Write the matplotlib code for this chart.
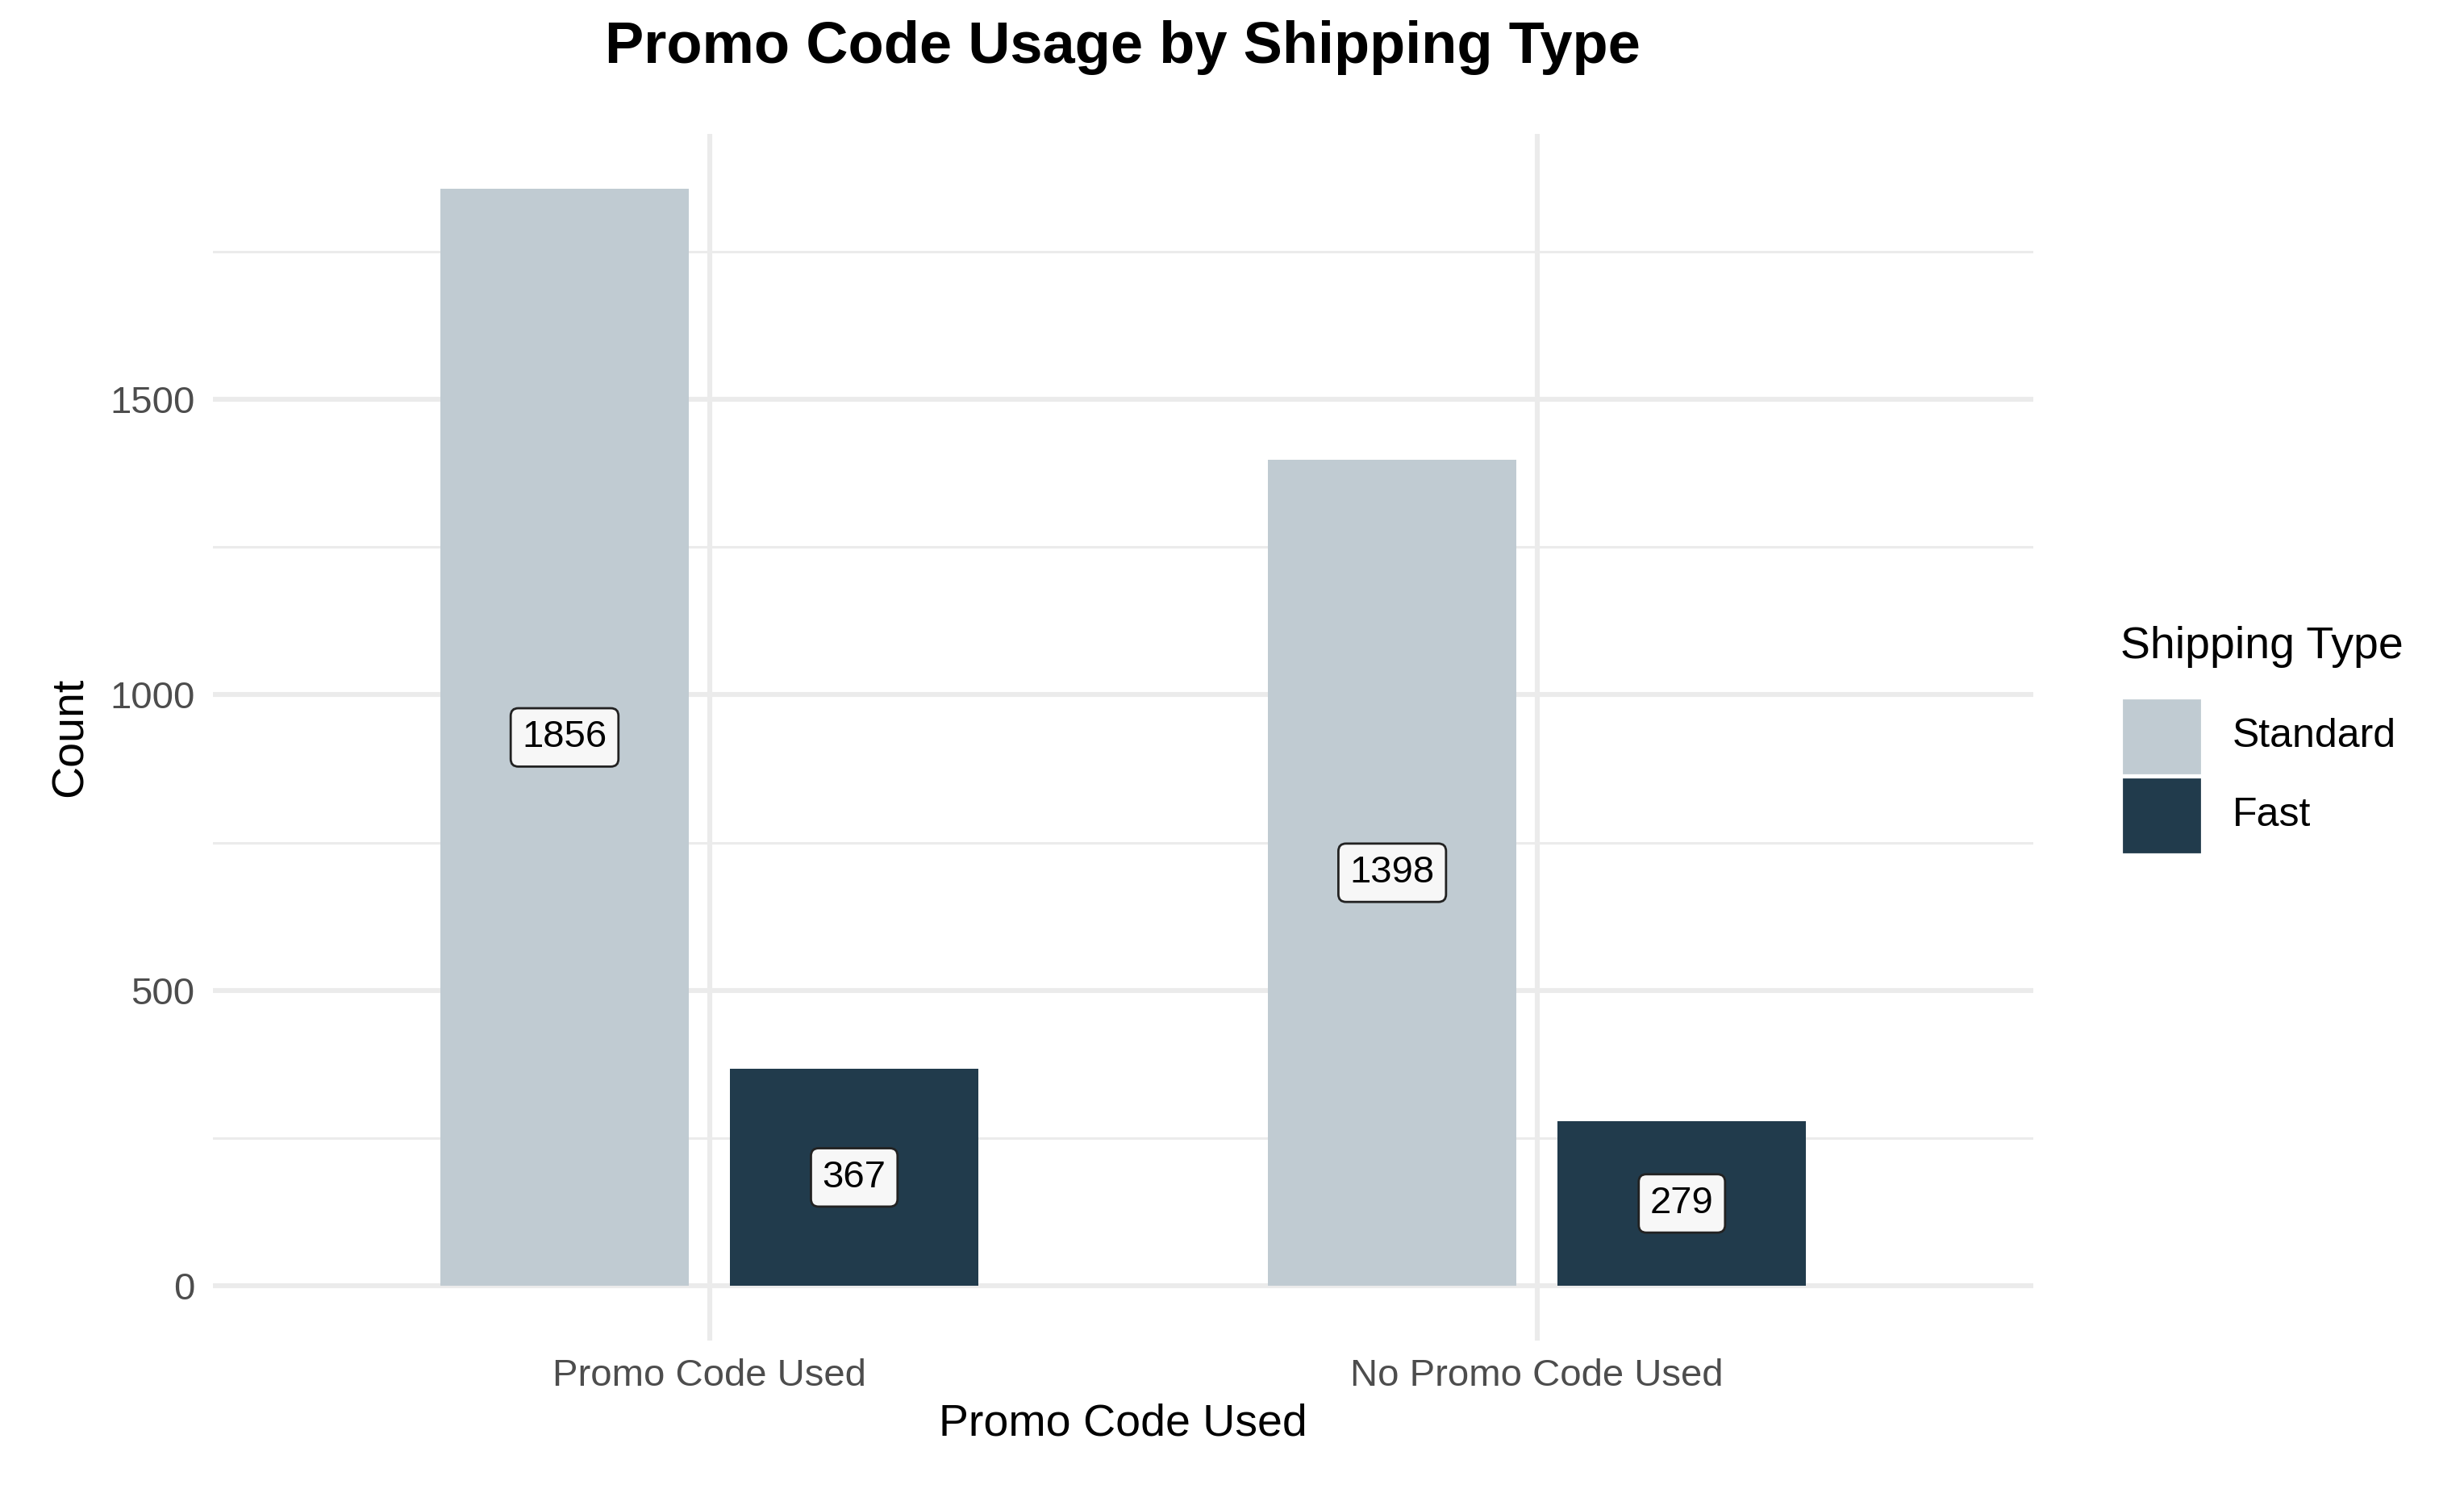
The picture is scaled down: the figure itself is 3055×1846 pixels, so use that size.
import matplotlib
matplotlib.use('Agg')
import matplotlib.pyplot as plt
from matplotlib.patches import Rectangle
import numpy as np

plt.rcParams['font.family'] = ['Liberation Sans', 'DejaVu Sans']

# Data
categories = ['Promo Code Used', 'No Promo Code Used']
ship_types = ['Standard', 'Fast']
standard = [1856, 1398]
fast = [367, 279]
colors = {'Standard': '#C0CBD2', 'Fast': '#213B4C'}

W, H = 3055, 1846
fig = plt.figure(figsize=(W / 200, H / 200), dpi=200)
ax = fig.add_axes([135 / 1563, 1 - 850 / 944, (1290 - 135) / 1563, (850 - 85) / 944])

x = np.arange(len(categories)) + 1
width = 0.3
offset = 0.175
for vals, st, sign in [(standard, 'Standard', -1), (fast, 'Fast', 1)]:
    ax.bar(x + sign * offset, vals, width=width, color=colors[st], zorder=2)
    for xi, v in zip(x, vals):
        ax.text(xi + sign * offset, v / 2, str(v), ha='center', va='center', fontsize=17,
                color='black', zorder=3,
                bbox=dict(boxstyle='round,pad=0.3,rounding_size=0.2', fc='#F7F7F7', ec='#222222', lw=1))

ymax = max(standard)
ax.set_ylim(-0.05 * ymax, 1.05 * ymax)
ax.set_xlim(0.4, 2.6)
ax.set_xticks(x)
ax.set_xticklabels(categories)
ax.set_yticks([0, 500, 1000, 1500])
ax.set_yticks([250, 750, 1250, 1750], minor=True)
ax.grid(True, which='major', color='#EBEBEB', lw=2.2, zorder=0)
ax.grid(True, which='minor', axis='y', color='#EBEBEB', lw=1.1, zorder=0)
ax.tick_params(which='both', length=0, labelsize=17, labelcolor='#4D4D4D', pad=8)
for s in ax.spines.values():
    s.set_visible(False)
ax.set_xlabel('Promo Code Used', fontsize=20, labelpad=4)
ax.set_ylabel('Count', fontsize=20, labelpad=8)

fig.text(712 / 1563, 1 - 30 / 944, 'Promo Code Usage by Shipping Type', ha='center', va='center',
         fontsize=26, fontweight='bold')

# Legend drawn by hand
fig.text(1345 / 1563, 1 - 410 / 944, 'Shipping Type', ha='left', va='center', fontsize=20)
for i, st in enumerate(ship_types):
    y0 = 1 - (490 + 50 * i) / 944
    fig.add_artist(Rectangle((1347 / 1563, y0), 48 / 1563, 46 / 944, transform=fig.transFigure,
                             color=colors[st]))
    fig.text(1416 / 1563, y0 + 23 / 944, st, ha='left', va='center', fontsize=18)

fig.savefig('out.png', dpi=200)
